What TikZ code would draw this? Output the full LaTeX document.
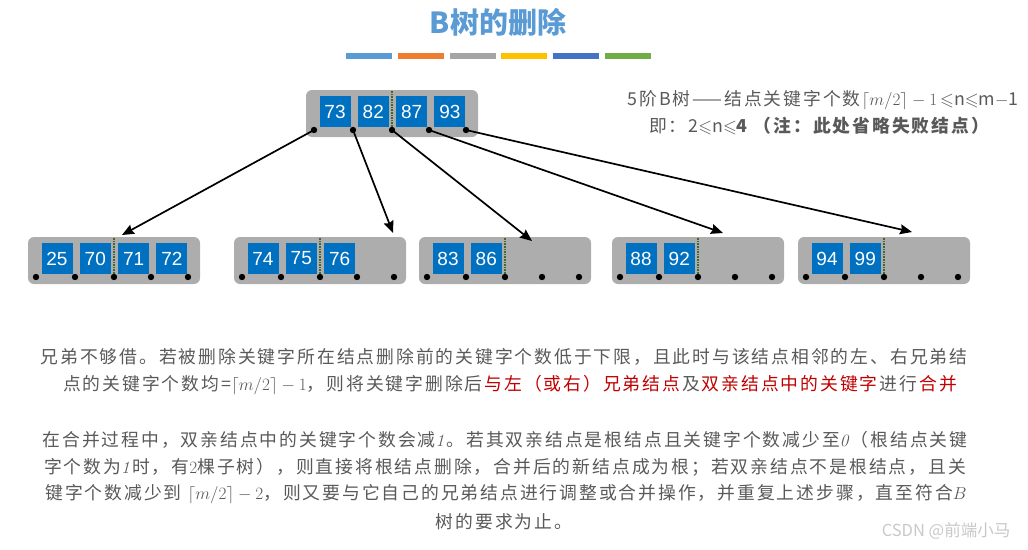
\documentclass[tikz,border=0pt]{standalone}
\usepackage{amssymb}
\usepackage[no-math]{fontspec}
\setmainfont{Noto Sans CJK SC}
\newfontfamily\keyfont{Liberation Sans}
\newfontfamily\bodyfont[LetterSpace=11]{Noto Sans CJK SC}
\usepackage{xcolor}
\usepackage{tikz}
\usetikzlibrary{positioning,arrows.meta,calc}
\definecolor{titulo}{HTML}{5B9BD5}
\definecolor{naranja}{HTML}{ED7D31}
\definecolor{grisbar}{HTML}{A5A5A5}
\definecolor{amarillo}{HTML}{FFC000}
\definecolor{azulbar}{HTML}{4472C4}
\definecolor{verdebar}{HTML}{70AD47}
\definecolor{caja}{HTML}{ADADAD}
\definecolor{clave}{HTML}{0070C0}
\definecolor{texto}{HTML}{595959}
\definecolor{rojo}{HTML}{C00000}
\definecolor{marca}{HTML}{C8C8C8}
% red phrase, keeping the letter spacing at its edges
\newcommand{\hl}[1]{\kern1.96pt\textcolor{rojo}{#1}\kern1.96pt}

\begin{document}
\begin{tikzpicture}[x=1pt, y=-1pt,
    nodebox/.style={fill=caja, rounded corners=6pt, minimum width=172pt, minimum height=47pt, inner sep=0pt},
    keybox/.style={fill=clave, text=white, minimum size=31pt, inner sep=0pt, font=\keyfont\fontsize{19}{19}\selectfont},
    ptrdot/.style={circle, fill=black, minimum size=6.4pt, inner sep=0pt},
    sepline/.style={verdebar!60!black, densely dotted, line width=1.6pt},
    ptrarrow/.style={-{Stealth[length=12pt, width=10pt, inset=1.5pt]}, line width=1.7pt},
    bodytxt/.style={font=\bodyfont\fontsize{17.8}{20}\selectfont, text=texto, inner sep=0pt}]
  \useasboundingbox (0,0) rectangle (1028,549);

  % title and colour bars
  \node[font=\bfseries\fontsize{29}{30}\selectfont, text=titulo] (title) at (498,22) {B树的删除};
  \foreach \c [count=\i] in {titulo, naranja, grisbar, amarillo, azulbar, verdebar}
    \fill[\c] (346+51.8*\i-51.8,53) rectangle ++(46,6);

  % one B-tree node: name, left, top, keys
  \newcommand{\btnode}[4]{
    \node[nodebox] (#1) at (#2+86,#3+23.5) {};
    \foreach \k [count=\i] in {#4}
      \node[keybox] (#1k\i) at (#2-9.3+38.3*\i,#3+21.5) {\k};
    \foreach \dx [count=\j] in {8,47,86,123,160}
      \node[ptrdot] (#1p\j) at (#2+\dx,#3+40) {};
    \draw[sepline] (#1p3.north) -- ++(0,-36);
  }
  \btnode{root}{306}{90}{73,82,87,93}
  \btnode{leafa}{28}{237}{25,70,71,72}
  \btnode{leafb}{234}{237}{74,75,76}
  \btnode{leafc}{419}{237}{83,86}
  \btnode{leafd}{612}{237}{88,92}
  \btnode{leafe}{798}{237}{94,99}

  % pointers from the root
  \coordinate (tip1) at (122,235);
  \coordinate (tip2) at (393,233);
  \coordinate (tip3) at (532,241);
  \coordinate (tip4) at (723,233);
  \coordinate (tip5) at (912,232);
  \foreach \j in {1,...,5}
    \draw[ptrarrow] (rootp\j.center) -- (tip\j);

  % note on the right
  \node[bodytxt] (rule) at (823,100) {5阶B树——结点关键字个数\kern1pt$\lceil m/2\rceil-1$\,$\leqslant$n$\leqslant$m$-$1};
  \node[bodytxt] (range) at (820,126) {即：2$\leqslant$n$\leqslant$\textbf{4 （注：此处省略失败结点）}};

  % explanation
  \node[bodytxt] (p1a) at (504,357) {兄弟不够借。若被删除关键字所在结点删除前的关键字个数低于下限，且此时与该结点相邻的左、右兄弟结};
  \node[bodytxt] (p1b) at (511,385) {点的关键字个数均=$\lceil m/2\rceil-1$，则将关键字删除后\hl{与左（或右）兄弟结点}及\hl{双亲结点中的关键字}进行\hl{合并}};
  \node[bodytxt] (p2a) at (505,440) {在合并过程中，双亲结点中的关键字个数会减$\mathit{1}$。若其双亲结点是根结点且关键字个数减少至$\mathit{0}$（根结点关键};
  \node[bodytxt] (p2b) at (505,467) {字个数为$\mathit{1}$时，有$2$棵子树），则直接将根结点删除，合并后的新结点成为根；若双亲结点不是根结点，且关};
  \node[bodytxt] (p2c) at (506,494) {键字个数减少到 $\lceil m/2\rceil-2$，则又要与它自己的兄弟结点进行调整或合并操作，并重复上述步骤，直至符合$B$};
  \node[bodytxt] (p2d) at (504,522) {树的要求为止。};

  \node[font=\fontsize{16.5}{16.5}\selectfont, text=marca] (wm) at (946,531) {CSDN @前端小马};
\end{tikzpicture}
\end{document}
